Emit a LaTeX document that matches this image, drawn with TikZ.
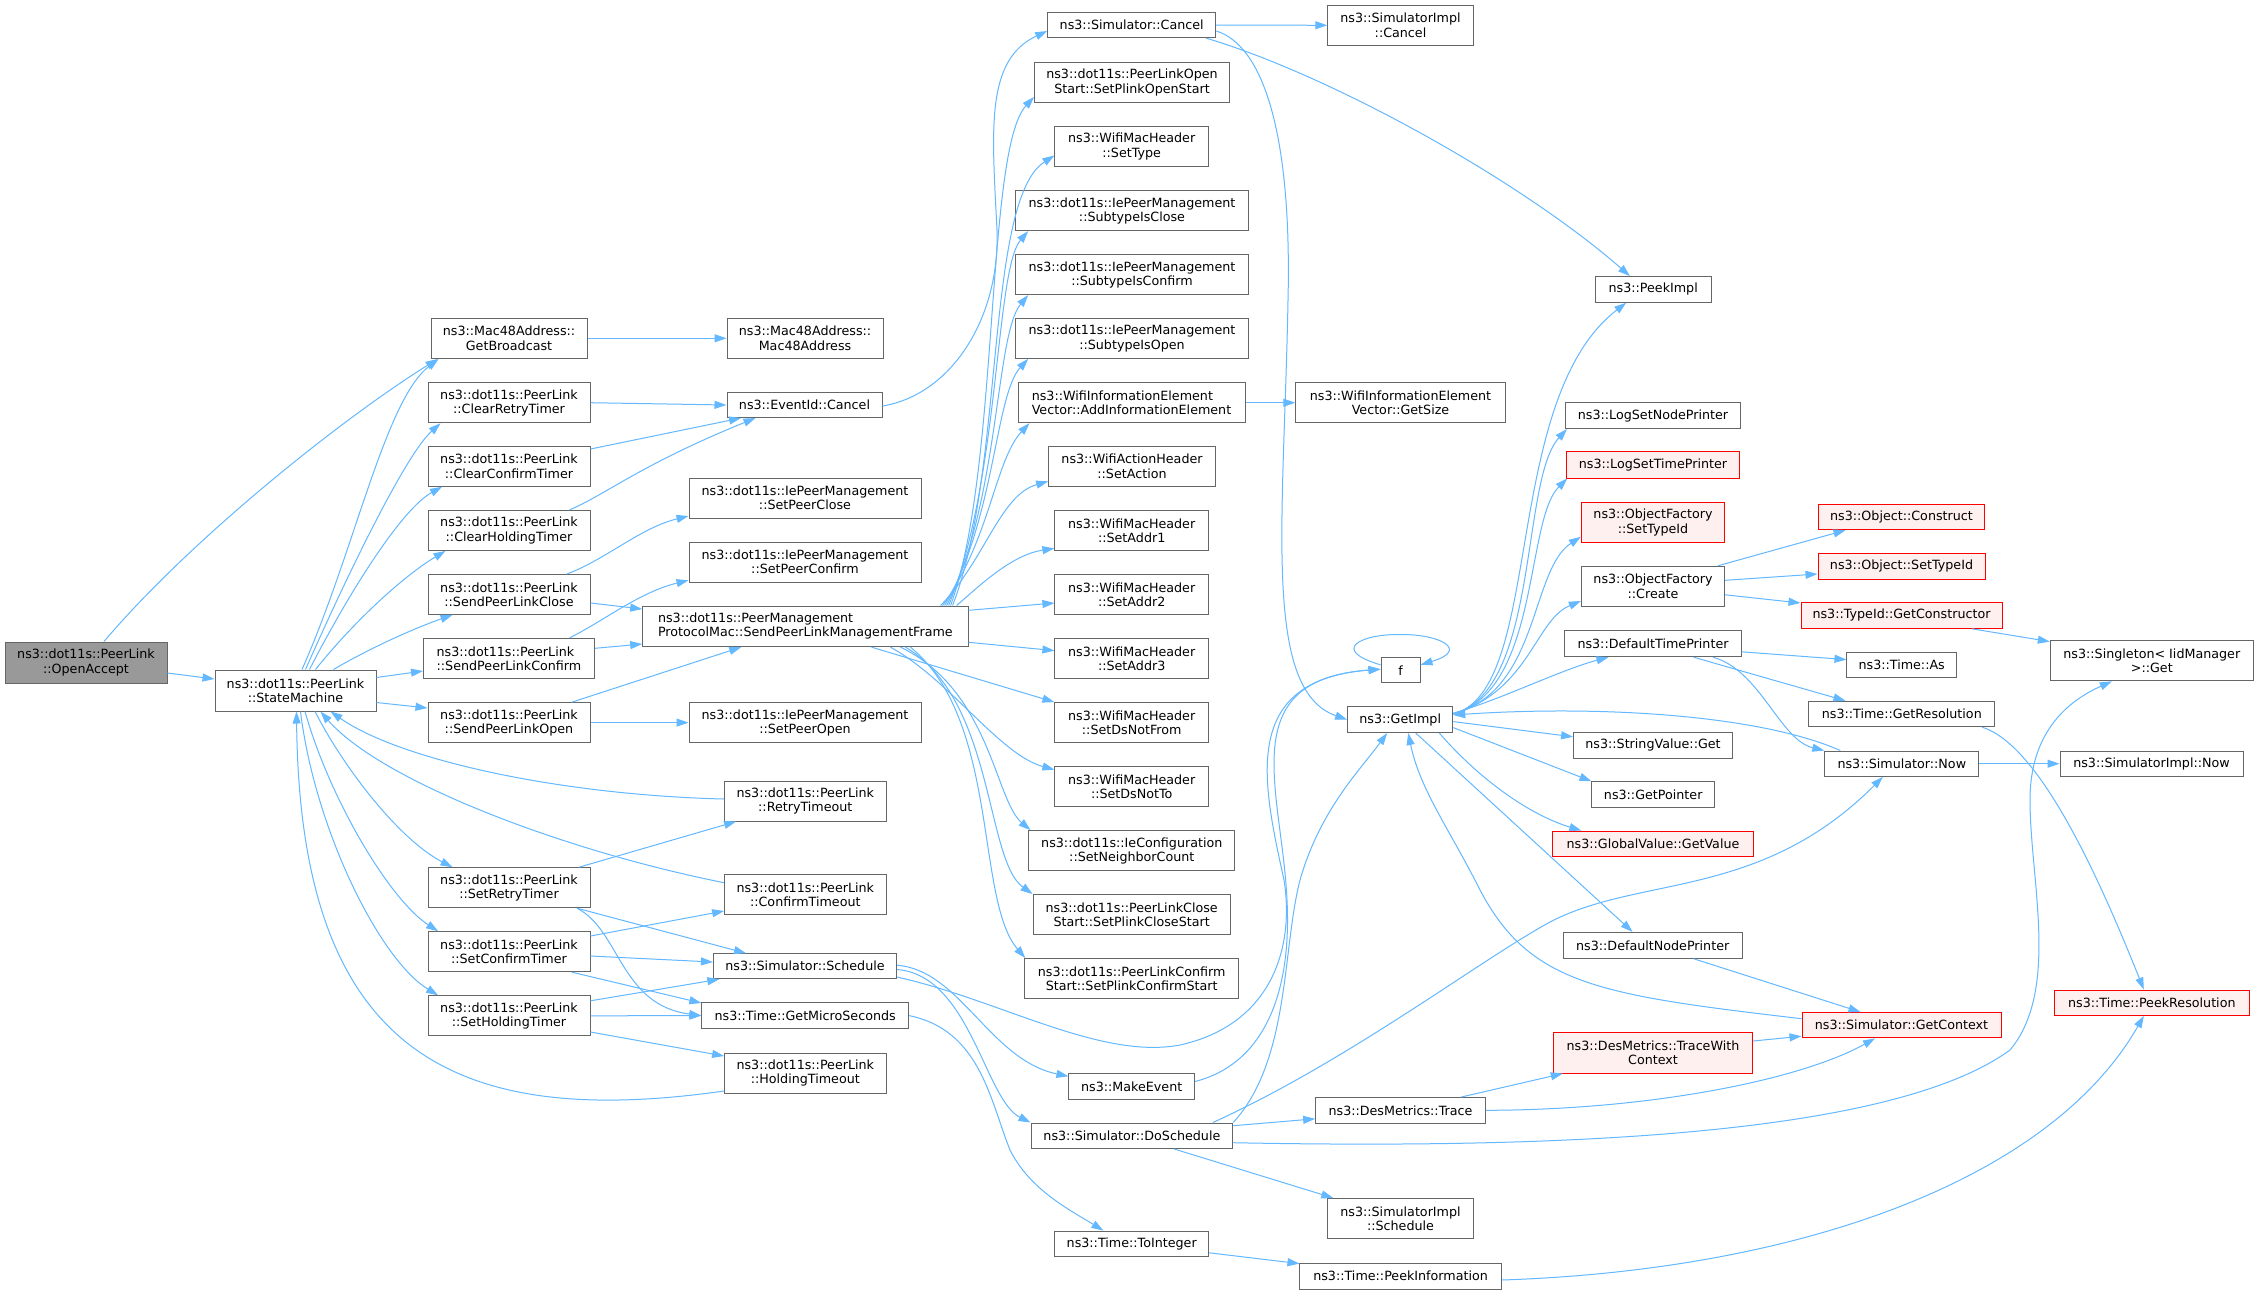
\documentclass[tikz,border=0pt]{standalone}
\usepackage{fontspec}
\setmainfont{DejaVu Sans}
\usetikzlibrary{arrows.meta,calc}
\definecolor{edgec}{HTML}{63B8FF}
\definecolor{bordc}{HTML}{666666}
\definecolor{redfill}{HTML}{FFF0F0}
\definecolor{grayfill}{HTML}{999999}
\tikzset{
  fn/.style={draw=bordc, line width=1pt, fill=white, inner sep=0pt, align=center, text=black,
    font=\fontsize{12.7}{14.2}\selectfont},
  fnl/.style={fn, align=left},
  fnred/.style={fn, draw=red, fill=redfill},
  fngray/.style={fn, fill=grayfill},
  sz/.style 2 args={minimum width=#1, minimum height=#2},
  edge/.style={draw=edgec, line width=1pt, -{Triangle[length=12pt,width=8pt]}}
}
\begin{document}
\begin{tikzpicture}[x=1pt,y=-1pt]
\fill[white] (0,0) rectangle (2259,1294);
\useasboundingbox (0,0) rectangle (2259,1294);
% ---------- column 1 ----------
\node[fngray, sz={162pt}{41pt}] (oa) at (86,662.5) {ns3::dot11s::PeerLink\\::OpenAccept};
\node[fn, sz={161pt}{41pt}] (sm) at (295.5,690.5) {ns3::dot11s::PeerLink\\::StateMachine};
% ---------- column 2 ----------
\node[fn, sz={156pt}{40.5pt}] (gb) at (509,338.3) {ns3::Mac48Address::\\GetBroadcast};
\node[fn, sz={162pt}{40.2pt}] (crt) at (509,402.7) {ns3::dot11s::PeerLink\\::ClearRetryTimer};
\node[fn, sz={162pt}{40pt}] (cct) at (509,466.3) {ns3::dot11s::PeerLink\\::ClearConfirmTimer};
\node[fn, sz={162pt}{40pt}] (cht) at (509,530.4) {ns3::dot11s::PeerLink\\::ClearHoldingTimer};
\node[fn, sz={162pt}{40pt}] (splc) at (509,594.4) {ns3::dot11s::PeerLink\\::SendPeerLinkClose};
\node[fnl, sz={171pt}{40.3pt}] (splcf) at (509,658.6) {ns3::dot11s::PeerLink\\::SendPeerLinkConfirm};
\node[fn, sz={162pt}{40pt}] (splo) at (509,722.6) {ns3::dot11s::PeerLink\\::SendPeerLinkOpen};
\node[fn, sz={162pt}{40pt}] (srt) at (509,887.7) {ns3::dot11s::PeerLink\\::SetRetryTimer};
\node[fn, sz={162pt}{40pt}] (sct) at (509,951.7) {ns3::dot11s::PeerLink\\::SetConfirmTimer};
\node[fn, sz={162pt}{40pt}] (sht) at (509,1015.8) {ns3::dot11s::PeerLink\\::SetHoldingTimer};
% ---------- column 3 ----------
\node[fn, sz={156pt}{40.5pt}] (mac) at (805,338.3) {ns3::Mac48Address::\\Mac48Address};
\node[fn, sz={155pt}{25pt}] (eid) at (804.5,405) {ns3::EventId::Cancel};
\node[fn, sz={232pt}{40pt}] (spc) at (805,498) {ns3::dot11s::IePeerManagement\\::SetPeerClose};
\node[fn, sz={232pt}{40pt}] (spcf) at (805,562) {ns3::dot11s::IePeerManagement\\::SetPeerConfirm};
\node[fnl, sz={325.4pt}{40.6pt}] (splmf) at (805.4,626.3) {ns3::dot11s::PeerManagement\\ProtocolMac::SendPeerLinkManagementFrame};
\node[fn, sz={232pt}{40pt}] (spo) at (805,722.6) {ns3::dot11s::IePeerManagement\\::SetPeerOpen};
\node[fn, sz={161.4pt}{40pt}] (rto) at (805.3,801) {ns3::dot11s::PeerLink\\::RetryTimeout};
\node[fn, sz={161.4pt}{40pt}] (cto) at (805.3,894.5) {ns3::dot11s::PeerLink\\::ConfirmTimeout};
\node[fn, sz={183pt}{25pt}] (sch) at (805,966.2) {ns3::Simulator::Schedule};
\node[fn, sz={206.7pt}{25.4pt}] (gms) at (805.2,1015.6) {ns3::Time::GetMicroSeconds};
\node[fn, sz={161.4pt}{40pt}] (hto) at (805.3,1073) {ns3::dot11s::PeerLink\\::HoldingTimeout};
% ---------- column 4 ----------
\node[fn, sz={168pt}{25.3pt}] (scan) at (1131.7,25) {ns3::Simulator::Cancel};
\node[fn, sz={195pt}{40pt}] (spos) at (1132,82.5) {ns3::dot11s::PeerLinkOpen\\Start::SetPlinkOpenStart};
\node[fn, sz={153.6pt}{40pt}] (stype) at (1131.7,146.5) {ns3::WifiMacHeader\\::SetType};
\node[fn, sz={232.7pt}{40pt}] (sic) at (1132,210.6) {ns3::dot11s::IePeerManagement\\::SubtypeIsClose};
\node[fn, sz={232.7pt}{40pt}] (sicf) at (1132,274.6) {ns3::dot11s::IePeerManagement\\::SubtypeIsConfirm};
\node[fn, sz={232.7pt}{40pt}] (sio) at (1132,338.4) {ns3::dot11s::IePeerManagement\\::SubtypeIsOpen};
\node[fnl, sz={227pt}{40pt}] (aie) at (1131.5,402.7) {ns3::WifiInformationElement\\Vector::AddInformationElement};
\node[fn, sz={166.7pt}{40pt}] (sact) at (1132,466.3) {ns3::WifiActionHeader\\::SetAction};
\node[fn, sz={153.6pt}{40pt}] (sa1) at (1131.7,530.4) {ns3::WifiMacHeader\\::SetAddr1};
\node[fn, sz={153.6pt}{40pt}] (sa2) at (1131.7,594.4) {ns3::WifiMacHeader\\::SetAddr2};
\node[fn, sz={153.6pt}{40pt}] (sa3) at (1131.7,658.6) {ns3::WifiMacHeader\\::SetAddr3};
\node[fn, sz={153.6pt}{40pt}] (sdnf) at (1131.7,722.6) {ns3::WifiMacHeader\\::SetDsNotFrom};
\node[fn, sz={153.6pt}{40pt}] (sdnt) at (1131.7,786.6) {ns3::WifiMacHeader\\::SetDsNotTo};
\node[fn, sz={205.7pt}{40pt}] (snc) at (1131.8,850.6) {ns3::dot11s::IeConfiguration\\::SetNeighborCount};
\node[fn, sz={197.3pt}{40pt}] (spcs) at (1131.7,914.5) {ns3::dot11s::PeerLinkClose\\Start::SetPlinkCloseStart};
\node[fn, sz={213.8pt}{40pt}] (spcfs) at (1131.7,978.5) {ns3::dot11s::PeerLinkConfirm\\Start::SetPlinkConfirmStart};
\node[fn, sz={125.6pt}{25.8pt}] (mev) at (1131.7,1086.3) {ns3::MakeEvent};
\node[fn, sz={201.8pt}{25.4pt}] (dos) at (1131.9,1135.7) {ns3::Simulator::DoSchedule};
\node[fn, sz={153.6pt}{25.5pt}] (toi) at (1131.7,1243.8) {ns3::Time::ToInteger};
% ---------- column 5 ----------
\node[fn, sz={145.4pt}{40pt}] (simc) at (1400.5,25.3) {ns3::SimulatorImpl\\::Cancel};
\node[fn, sz={209.4pt}{40pt}] (gsz) at (1400.5,402.7) {ns3::WifiInformationElement\\Vector::GetSize};
\node[fn, sz={39pt}{25.5pt}] (f) at (1400.5,670.2) {f};
\node[fn, sz={105.2pt}{25.9pt}] (gi) at (1400.2,719.6) {ns3::GetImpl};
\node[fn, sz={169.7pt}{25.4pt}] (dmt) at (1400.5,1110.3) {ns3::DesMetrics::Trace};
\node[fn, sz={145.4pt}{40pt}] (sims) at (1400.5,1218.5) {ns3::SimulatorImpl\\::Schedule};
\node[fn, sz={201.3pt}{26pt}] (pin) at (1400.6,1276) {ns3::Time::PeekInformation};
% ---------- column 6 ----------
\node[fn, sz={115.6pt}{25.7pt}] (pki) at (1653.2,289.4) {ns3::PeekImpl};
\node[fn, sz={175.2pt}{25.7pt}] (lsnp) at (1653,415.7) {ns3::LogSetNodePrinter};
\node[fnred, sz={172.3pt}{26.2pt}] (lstp) at (1653,464.9) {ns3::LogSetTimePrinter};
\node[fnred, sz={143.3pt}{40.2pt}] (ofst) at (1653,522.5) {ns3::ObjectFactory\\::SetTypeId};
\node[fn, sz={143.3pt}{40.2pt}] (ofc) at (1653,586.3) {ns3::ObjectFactory\\::Create};
\node[fn, sz={176.1pt}{25.8pt}] (dtp) at (1653,643.8) {ns3::DefaultTimePrinter};
\node[fn, sz={158.8pt}{25.4pt}] (svg) at (1653,745.3) {ns3::StringValue::Get};
\node[fn, sz={122.5pt}{25.5pt}] (gp) at (1653.2,794.5) {ns3::GetPointer};
\node[fnred, sz={200.4pt}{25.9pt}] (gvv) at (1653,844) {ns3::GlobalValue::GetValue};
\node[fn, sz={178.6pt}{25.9pt}] (dnp) at (1652.7,945.3) {ns3::DefaultNodePrinter};
\node[fnred, sz={199.4pt}{40.1pt}] (dmtwc) at (1653,1053) {ns3::DesMetrics::TraceWith\\Context};
% ---------- column 7 ----------
\node[fnred, sz={199pt}{25.4pt}] (sgc) at (1901.5,1025.2) {ns3::Simulator::GetContext};
\node[fnred, sz={166pt}{25.2pt}] (ocon) at (1901.5,517.1) {ns3::Object::Construct};
\node[fnred, sz={167pt}{25.6pt}] (osti) at (1901.5,566.2) {ns3::Object::SetTypeId};
\node[fnred, sz={201pt}{26pt}] (tgc) at (1901.5,615.3) {ns3::TypeId::GetConstructor};
\node[fn, sz={109.5pt}{25.5pt}] (tas) at (1901.7,665.2) {ns3::Time::As};
\node[fn, sz={185.8pt}{25.5pt}] (tgr) at (1901.8,714) {ns3::Time::GetResolution};
\node[fn, sz={154pt}{25.4pt}] (snow) at (1901.8,763.7) {ns3::Simulator::Now};
% ---------- column 8 ----------
\node[fn, sz={203pt}{40.5pt}] (sing) at (2151.8,660.6) {ns3::Singleton< IidManager\\>::Get};
\node[fn, sz={183pt}{25.4pt}] (simn) at (2151.5,763.7) {ns3::SimulatorImpl::Now};
\node[fnred, sz={195pt}{25.4pt}] (tpr) at (2151.8,1002.7) {ns3::Time::PeekResolution};

% ================= edges =================
\draw[edge] ($(oa.east)+(0,10.5)$) -- ($(sm.west)+(0,-11.5)$);
\draw[edge] ($(oa.north)+(18,0)$) .. controls (190,540) and (340,420) .. ($(gb.south west)+(7,0)$);
\draw[edge] ($(sm.north)+(6.5,0)$) .. controls (355,550) and (385,400) .. ($(gb.south west)+(8,0)$);
\draw[edge] ($(sm.north)+(10,0)$) .. controls (345,580) and (405,455) .. ($(crt.south west)+(13,0)$);
\draw[edge] ($(sm.north)+(14,0)$) .. controls (345,600) and (400,510) .. ($(cct.south west)+(14.5,0)$);
\draw[edge] ($(sm.north)+(20,0)$) .. controls (355,620) and (405,575) .. ($(cht.south west)+(18,0)$);
\draw[edge] ($(sm.north)+(38,0)$) .. controls (370,648) and (415,628) .. ($(splc.south west)+(25,0)$);
\draw[edge] ($(sm.east)+(0,-13)$) -- ($(splcf.west)+(0,12.4)$);
\draw[edge] ($(sm.east)+(0,12)$) -- ($(splo.west)+(0,-14.6)$);
\draw[edge] ($(sm.south)+(19.5,0)$) .. controls (345,770) and (400,840) .. ($(srt.north west)+(25,0)$);
\draw[edge] ($(sm.south)+(9.5,0)$) .. controls (330,800) and (390,900) .. ($(sct.north west)+(10.6,0)$);
\draw[edge] ($(sm.south)+(5,0)$) .. controls (315,830) and (380,960) .. ($(sht.north west)+(10.6,0)$);
\draw[edge] ($(rto.west)+(0,-2)$) .. controls (560,795) and (400,760) .. ($(sm.south)+(35,0)$);
\draw[edge] ($(cto.west)+(0,-11.8)$) .. controls (560,850) and (380,780) .. ($(sm.south)+(25,0)$);
\draw[edge] ($(hto.west)+(0,18)$) .. controls (450,1130) and (300,1050) .. ($(sm.south)+(1,0)$);

\draw[edge] ($(splc.north)+(58,0)$) .. controls (605,560) and (640,528) .. ($(spc.west)+(0,18)$);
\draw[edge] ($(splc.east)+(0,8.6)$) -- ($(splmf.west)+(0,-17.3)$);
\draw[edge] ($(splcf.north)+(60.5,0)$) .. controls (605,620) and (640,592) .. ($(spcf.west)+(0,18.3)$);
\draw[edge] ($(splcf.east)+(0,-10.3)$) -- ($(splmf.west)+(0,17.7)$);
\draw[edge] ($(splo.north)+(63,0)$) -- ($(splmf.south west)+(99,0)$);
\draw[edge] (splo.east) -- (spo.west);
\draw[edge] ($(srt.north)+(70,0)$) -- ($(rto.south west)+(12,0)$);
\draw[edge] ($(srt.south)+(68,0)$) -- ($(sch.north west)+(33,0)$);
\draw[edge] ($(srt.south)+(68,0)$) .. controls (620,930) and (620,1005) .. (gms.west);
\draw[edge] ($(sct.east)+(0,-15.7)$) -- ($(cto.west)+(0,16.5)$);
\draw[edge] ($(sct.east)+(0,4.3)$) -- ($(sch.west)+(0,-4.2)$);
\draw[edge] ($(sct.south)+(63,0)$) -- ($(gms.west)+(0,-12.6)$);
\draw[edge] ($(sht.east)+(0,-15)$) -- ($(sch.south west)+(6.3,0)$);
\draw[edge] (sht.east) -- (gms.west);
\draw[edge] ($(sht.east)+(0,16.2)$) -- ($(hto.west)+(0,-17)$);
\draw[edge] (gb.east) -- (mac.west);
\draw[edge] (crt.east) -- (eid.west);
\draw[edge] ($(cct.east)+(0,-17.3)$) -- ($(eid.south west)+(14.6,0)$);
\draw[edge] ($(cht.north)+(60.5,0)$) .. controls (605,495) and (640,465) .. ($(eid.south west)+(29,0)$);

\draw[edge] ($(eid.east)+(0,1)$) .. controls (950,395) and (1000,320) .. (997,230) .. controls (992,130) and (985,60) .. ($(scan.west)+(0,6)$);

% fan from SendPeerLinkManagementFrame
\draw[edge] ($(splmf.north east)+(-18,0)$) .. controls (1000,470) and (985,150) .. ($(spos.west)+(0,14.5)$);
\draw[edge] ($(splmf.north east)+(-16,0)$) .. controls (1005,470) and (985,200) .. ($(stype.west)+(0,9)$);
\draw[edge] ($(splmf.north east)+(-20,0)$) .. controls (1000,480) and (995,270) .. ($(sic.south west)+(13,0)$);
\draw[edge] ($(splmf.north east)+(-22,0)$) .. controls (1000,500) and (995,335) .. ($(sicf.south west)+(13,0)$);
\draw[edge] ($(splmf.north east)+(-24,0)$) .. controls (995,520) and (995,395) .. ($(sio.south west)+(13,0)$);
\draw[edge] ($(splmf.north east)+(-26,0)$) .. controls (990,540) and (995,460) .. ($(aie.south west)+(12,0)$);
\draw[edge] ($(splmf.north east)+(-28,0)$) .. controls (985,560) and (1000,495) .. ($(sact.west)+(0,15)$);
\draw[edge] ($(splmf.north east)+(-12,0)$) .. controls (975,590) and (1010,555) .. ($(sa1.west)+(0,18)$);
\draw[edge] ($(splmf.east)+(0,-16)$) -- ($(sa2.west)+(0,8.6)$);
\draw[edge] ($(splmf.east)+(0,16)$) -- ($(sa3.west)+(0,-8)$);
\draw[edge] ($(splmf.south)+(66,0)$) -- (sdnf.north west);
\draw[edge] ($(splmf.south)+(85,0)$) .. controls (950,680) and (1000,755) .. ($(sdnt.west)+(0,-17)$);
\draw[edge] ($(splmf.south)+(95,0)$) .. controls (990,690) and (995,800) .. ($(snc.north west)+(2,0)$);
\draw[edge] ($(splmf.south)+(100,0)$) .. controls (995,700) and (985,860) .. (spcs.north west);
\draw[edge] ($(splmf.south)+(105,0)$) .. controls (1000,720) and (975,900) .. ($(spcfs.north west)+(1,0)$);

% column 4 onwards
\draw[edge] (scan.east) -- (simc.west);
\draw[edge] ($(scan.south east)+(-10,0)$) .. controls (1330,75) and (1520,180) .. ($(pki.north west)+(35,0)$);
\draw[edge] ($(scan.east)+(0,6)$) .. controls (1262,45) and (1292,130) .. (1288,300) .. controls (1284,520) and (1262,690) .. (gi.west);
\draw[edge] (aie.east) -- (gsz.west);
\draw[edge] ($(sch.east)+(0,-1)$) .. controls (960,970) and (990,1060) .. ($(mev.west)+(0,-10)$);
\draw[edge] ($(sch.east)+(0,3.3)$) .. controls (970,975) and (985,1100) .. (dos.north west);
\draw[edge] ($(sch.east)+(0,10.8)$) .. controls (1000,1000) and (1100,1060) .. (1180,1045) .. controls (1270,1025) and (1295,950) .. (1284,880) .. controls (1262,780) and (1240,680) .. ($(f.west)+(0,-1)$);
\draw[edge] ($(mev.east)+(0,-4.8)$) .. controls (1260,1065) and (1292,1000) .. (1287,900) .. controls (1282,790) and (1232,680) .. ($(f.west)+(0,-1)$);
\draw[edge] (dos.north east) .. controls (1290,1060) and (1282,950) .. (1300,880) .. controls (1320,810) and (1360,770) .. ($(gi.south)+(-13,0)$);
\draw[edge] ($(dos.north)+(81,0)$) .. controls (1350,1060) and (1480,960) .. (1550,922) .. controls (1640,875) and (1760,900) .. ($(snow.south)+(-19,0)$);
\draw[edge] ($(dos.east)+(0,-10)$) -- ($(dmt.west)+(0,8.5)$);
\draw[edge] ($(dos.south)+(42,0)$) -- ($(sims.north west)+(6,0)$);
\draw[edge] ($(dos.east)+(0,7)$) .. controls (1600,1150) and (1900,1130) .. (2010,1050) .. controls (2060,990) and (2030,880) .. (2030,800) .. controls (2030,730) and (2070,700) .. ($(sing.south west)+(62,0)$);
\draw[edge] ($(dmt.north east)+(-25,0)$) -- ($(dmtwc.south west)+(10,0)$);
\draw[edge] (dmt.east) .. controls (1650,1110) and (1800,1080) .. ($(sgc.south)+(-26.5,0)$);
\draw[edge] ($(dmtwc.east)+(0,-12)$) -- ($(sgc.west)+(0,11)$);
\draw[edge] ($(dnp.south)+(41,0)$) -- ($(sgc.north)+(-41,0)$);
\draw[edge] ($(sgc.west)+(0,-6.5)$) .. controls (1600,995) and (1530,985) .. (1480,890) .. controls (1450,830) and (1420,790) .. ($(gi.south)+(8,0)$);
\draw[edge] ($(toi.east)+(0,9)$) -- ($(pin.west)+(0,-12.4)$);
\draw[edge] (gms.east) .. controls (980,1030) and (990,1100) .. (1010,1150) .. controls (1030,1190) and (1070,1210) .. ($(toi.north west)+(49,0)$);
\draw[edge] ($(pin.east)+(0,4)$) .. controls (1800,1270) and (2050,1180) .. ($(tpr.south)+(-8,0)$);
\draw[edge] ($(tgr.south east)+(-13,0)$) .. controls (2040,745) and (2100,880) .. ($(tpr.north)+(-8,0)$);
\draw[edge] (snow.east) -- (simn.west);
\draw[edge] ($(snow.north west)+(16,0)$) .. controls (1760,715) and (1600,705) .. ($(gi.east)+(0,-4.6)$);
\draw[edge] ($(dtp.east)+(0,8)$) -- ($(tas.west)+(0,-5.6)$);
\draw[edge] ($(dtp.south)+(40.6,0)$) -- ($(tgr.north west)+(37,0)$);
\draw[edge] ($(dtp.south)+(60,0)$) .. controls (1760,670) and (1780,740) .. (snow.north west);
\draw[edge] ($(ofc.north east)+(-7,0)$) -- ($(ocon.south west)+(27.5,0)$);
\draw[edge] ($(ofc.east)+(0,-6)$) -- ($(osti.west)+(0,7.8)$);
\draw[edge] ($(ofc.east)+(0,8.5)$) -- ($(tgc.west)+(0,-12.3)$);
\draw[edge] ($(tgc.south)+(70.5,0)$) -- ($(sing.west)+(0,-19)$);
% GetImpl fan
\draw[edge] ($(gi.east)+(0,-5.6)$) .. controls (1545,690) and (1500,400) .. ($(pki.south)+(-27,0)$);
\draw[edge] ($(gi.east)+(0,-5.6)$) .. controls (1540,690) and (1520,480) .. ($(lsnp.south west)+(2,0)$);
\draw[edge] ($(gi.east)+(0,-5.6)$) .. controls (1540,690) and (1525,520) .. ($(lstp.south west)+(1,0)$);
\draw[edge] ($(gi.east)+(0,-5.6)$) .. controls (1540,690) and (1530,570) .. ($(ofst.west)+(0,14.3)$);
\draw[edge] ($(gi.east)+(0,-5.6)$) .. controls (1530,690) and (1535,620) .. ($(ofc.west)+(0,14.7)$);
\draw[edge] ($(gi.east)+(0,-6.5)$) .. controls (1500,700) and (1560,670) .. ($(dtp.south west)+(44,0)$);
\draw[edge] ($(gi.east)+(0,2)$) -- ($(svg.west)+(0,-8.5)$);
\draw[edge] ($(gi.east)+(0,8)$) -- (gp.north west);
\draw[edge] ($(gi.south east)+(-14,0)$) .. controls (1480,780) and (1530,815) .. ($(gvv.north west)+(29,0)$);
\draw[edge] ($(gi.south)+(15.6,0)$) -- ($(dnp.north west)+(69.6,0)$);
% self loop on f
\draw[edge] ($(f.west)+(0,-5.4)$) .. controls (1330,650) and (1360,634) .. (1400,634.5) .. controls (1440,634) and (1470,650) .. ($(f.east)+(0,-5.4)$);
\end{tikzpicture}
\end{document}
